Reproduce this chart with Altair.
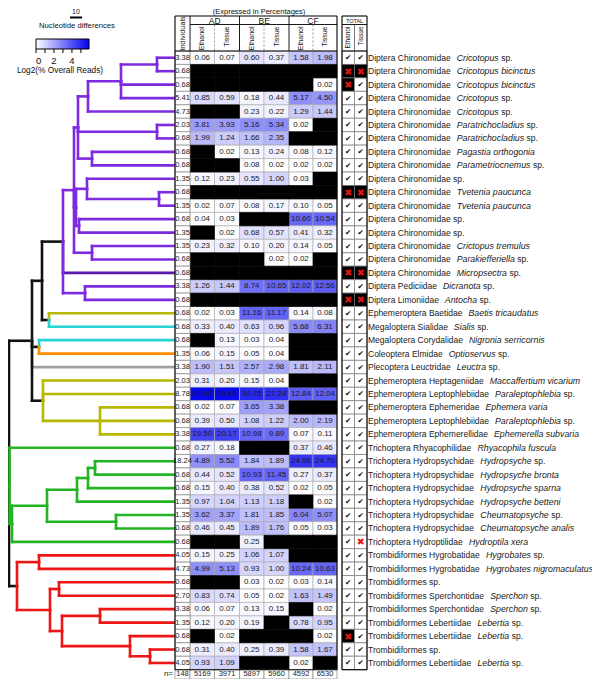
import math
import pandas as pd
import altair as alt

B = None  # black cell = taxon not detected

FAMILY = [
    "Diptera Chironomidae", "Diptera Chironomidae", "Diptera Chironomidae", "Diptera Chironomidae",
    "Diptera Chironomidae", "Diptera Chironomidae", "Diptera Chironomidae", "Diptera Chironomidae",
    "Diptera Chironomidae", "Diptera Chironomidae sp.", "Diptera Chironomidae", "Diptera Chironomidae",
    "Diptera Chironomidae sp.", "Diptera Chironomidae sp.", "Diptera Chironomidae", "Diptera Chironomidae",
    "Diptera Chironomidae", "Diptera Pediciidae", "Diptera Limoniidae", "Ephemeroptera Baetidae",
    "Megaloptera Sialidae", "Megaloptera Corydalidae", "Coleoptera Elmidae", "Plecoptera Leuctridae",
    "Ephemeroptera Heptageniidae", "Ephemeroptera Leptophlebiidae", "Ephemeroptera Ephemeridae",
    "Ephemeroptera Leptophlebiidae", "Ephemeroptera Ephemerellidae", "Trichoptera Rhyacophilidae",
    "Trichoptera Hydropsychidae", "Trichoptera Hydropsychidae", "Trichoptera Hydropsychidae",
    "Trichoptera Hydropsychidae", "Trichoptera Hydropsychidae", "Trichoptera Hydropsychidae",
    "Trichoptera Hydroptilidae", "Trombidiformes Hygrobatidae", "Trombidiformes Hygrobatidae",
    "Trombidiformes sp.", "Trombidiformes Sperchontidae", "Trombidiformes Sperchontidae",
    "Trombidiformes Lebertiidae", "Trombidiformes Lebertiidae", "Trombidiformes sp.",
    "Trombidiformes Lebertiidae",
]
SPECIES = [
    "Cricotopus sp.", "Cricotopus bicinctus", "Cricotopus bicinctus", "Cricotopus sp.", "Cricotopus sp.",
    "Paratrichocladius sp.", "Paratrichocladius sp.", "Pagastia orthogonia", "Parametriocnemus sp.", "",
    "Tvetenia paucunca", "Tvetenia paucunca", "", "", "Crictopus tremulus", "Parakiefferiella sp.",
    "Micropsectra sp.", "Dicranota sp.", "Antocha sp.", "Baetis tricaudatus", "Sialis sp.",
    "Nigronia serricornis", "Optioservus sp.", "Leuctra sp.", "Maccaffertium vicarium",
    "Paraleptophlebia sp.", "Ephemera varia", "Paraleptophlebia sp.", "Ephemerella subvaria",
    "Rhyacophila fuscula", "Hydropsyche sp.", "Hydropsyche bronta", "Hydropsyche sparna",
    "Hydropsyche betteni", "Cheumatopsyche sp.", "Cheumatopsyche analis", "Hydroptila xera",
    "Hygrobates sp.", "Hygrobates nigromaculatus", "", "Sperchon sp.", "Sperchon sp.",
    "Lebertia sp.", "Lebertia sp.", "", "Lebertia sp.",
]
INDIVIDUALS = [3.38, 0.68, 0.68, 5.41, 4.73, 2.03, 0.68, 0.68, 0.68, 1.35,
               0.68, 1.35, 0.68, 1.35, 1.35, 0.68, 0.68, 3.38, 0.68, 0.68,
               0.68, 0.68, 1.35, 3.38, 2.03, 8.78, 0.68, 0.68, 3.38, 0.68,
               18.24, 0.68, 0.68, 1.35, 1.35, 0.68, 0.68, 4.05, 4.73, 0.68,
               2.70, 3.38, 1.35, 0.68, 0.68, 4.05]
AD_ETH = [0.06, B, B, 0.85, B, 3.81, 1.99, B, B, 0.12,
          B, 0.02, 0.04, B, 0.23, B, B, 1.26, B, 0.02,
          0.33, B, 0.06, 1.90, 0.31, 50.90, 0.02, 0.39, 19.50, 0.27,
          4.89, 0.44, 0.15, 0.97, 3.62, 0.46, B, 0.15, 4.99, B,
          0.83, 0.06, 0.12, B, 0.31, 0.93]
AD_TIS = [0.07, B, B, 0.59, B, 3.93, 1.24, 0.02, B, 0.23,
          B, 0.07, 0.03, 0.02, 0.32, B, B, 1.44, B, 0.03,
          0.40, 0.13, 0.15, 1.51, 0.20, 49.46, 0.07, 0.50, 20.17, 0.18,
          5.52, 0.52, 0.40, 1.04, 3.37, 0.45, B, 0.25, 5.13, B,
          0.74, 0.07, 0.20, 0.02, 0.40, 1.09]
BE_ETH = [0.60, B, B, 0.18, 0.23, 5.16, 1.66, 0.13, 0.08, 0.55,
          B, 0.08, B, 0.68, 0.10, B, B, 8.74, B, 11.16,
          0.63, 0.03, 0.05, 2.57, 0.15, 30.75, 3.65, 1.08, 10.98, B,
          1.84, 10.93, 0.38, 1.13, 1.81, 1.89, 0.25, 1.06, 0.93, 0.03,
          0.05, 0.13, 0.19, B, 0.25, B]
BE_TIS = [0.37, B, B, 0.44, 0.22, 5.34, 2.35, 0.24, 0.02, 1.00,
          B, 0.17, B, 0.57, 0.20, 0.02, B, 10.65, B, 11.17,
          0.96, 0.04, 0.04, 2.98, 0.04, 27.24, 3.38, 1.22, 9.89, B,
          1.89, 11.45, 0.52, 1.18, 1.85, 1.76, B, 1.07, 1.00, 0.02,
          0.02, 0.15, B, B, 0.39, B]
CF_ETH = [1.58, B, B, 5.17, 1.29, 0.02, B, 0.08, 0.02, 0.03,
          B, 0.10, 10.60, 0.41, 0.14, 0.02, B, 12.02, B, 0.14,
          5.68, B, B, 1.81, B, 12.84, B, 2.00, 0.07, 0.37,
          24.96, 0.27, 0.02, B, 6.04, 0.05, B, B, 10.24, 0.03,
          1.63, B, 0.78, B, 1.58, 0.02]
CF_TIS = [1.98, B, 0.02, 4.50, 1.44, B, B, 0.12, 0.02, B,
          B, 0.05, 10.54, 0.32, 0.05, B, B, 12.56, B, 0.08,
          6.31, B, B, 2.11, B, 12.04, B, 2.19, 0.11, 0.46,
          24.70, 0.37, 0.05, 0.02, 5.07, 0.03, B, B, 10.63, 0.14,
          1.49, 0.02, 0.95, 0.02, 1.67, B]
# Y = detected (check), X = not detected (on black), w = not detected (on white)
TOTAL_ETH = list("YXXYYYYYYY" "XYYYYYXYXY" "YYYYYYYYYY" "YYYYYYYYYY" "YYYXYY")
TOTAL_TIS = list("YXYYYYYYYY" "XYYYYYXYXY" "YYYYYYYYYY" "YYYYYYwYYY" "YYYYYY")
SITES = ["AD", "BE", "CF"]
SAMPLE_TYPES = ["Ethanol", "Tissue"]
N_COUNTS = [148, 5169, 3971, 5897, 5960, 4592, 6530]
LEGEND_TICKS = [0, 1, 2, 3, 4, 5]
LEGEND_LABELS = [0, 2, 4]
SCALE_BAR_UNITS = 10

# ---------------- tree (node depth, branch colour) ----------------
def N(depth, color, *kids):
    return {"x": depth, "c": color, "kids": list(kids)}

def L(row, color):
    return {"row": row, "c": color}

TREE = N(9, "k",
    N(32, "k",
        N(42, "k",
            N(63, "k",
                N(74, "p",
                    N(78, "p",
                        N(88, "p",
                            N(121, "p", N(157, "p", L(1, "p"), L(2, "p")), L(3, "p"), L(4, "p")),
                            L(5, "p")),
                        N(157, "p", L(6, "p"), L(7, "p")),
                        N(92, "p", L(8, "p"), L(9, "p"))),
                    N(76, "p",
                        N(87, "p", L(10, "p"), N(159, "p", L(11, "p"), L(12, "p"))),
                        N(79, "p", L(13, "p"), L(14, "p"))),
                    N(92, "p", L(15, "p"), L(16, "p"))),
                L(17, "pd"),
                N(85, "p", L(18, "p"), L(19, "p"))),
            N(49, "k", L(20, "o"), L(21, "c"))),
        N(39, "k", L(22, "c"), L(23, "or")),
        L(24, "gy"),
        N(43, "k", L(25, "o"), L(26, "o"), N(100, "o", L(27, "o"), L(28, "o"), L(29, "o")))),
    N(9.6, "gr", L(30, "gr"),
        N(12, "gr",
            N(47, "gr",
                N(77, "gr", N(88, "gr", N(95, "gr", L(31, "gr"), L(32, "gr")), L(33, "gr")), L(34, "gr")),
                N(116, "gr", L(35, "gr"), L(36, "gr"))),
            L(37, "gr"))),
    N(17, "k",
        N(39, "r", L(38, "r"), L(39, "r")),
        N(50, "r",
            N(59, "r", L(40, "r"), L(41, "r")),
            N(62, "r",
                N(100, "r", L(42, "r"), L(43, "r")),
                N(130, "r", L(44, "r"), N(150, "r", L(45, "r"), L(46, "r")))))))

PAL = {"k": "#111111", "p": "#7d2ae0", "pd": "#5a17a8", "o": "#b8b800", "c": "#25d4d4",
       "or": "#ff8c00", "gy": "#a0a0a0", "gr": "#22b422", "r": "#ee1515"}

# ---------------- layout ----------------
LEFT, TOP = 8, 8
VIEW_W, VIEW_H = 584, 671
TIP_X = 175
COL_EDGES = [175, 190, 214.5, 239.5, 264, 289, 313, 337]
TOT_EDGES = [342, 354.5, 367]
HEAD_TOP, HEAD_MID, HEAD_BOT = 16, 24.5, 51
RH = 13.45
NROWS = len(FAMILY)
BODY_BOT = HEAD_BOT + NROWS * RH
NAME_X = 368
FONT = "Liberation Sans"
NARROW = "Liberation Sans Narrow, Liberation Sans, sans-serif"
SYMF = "DejaVu Sans"

def row_top(r):
    return HEAD_BOT + (r - 1) * RH

def row_mid(r):
    return row_top(r) + RH / 2

XS = alt.Scale(domain=[LEFT, LEFT + VIEW_W], range=[0, VIEW_W], nice=False, zero=False)
YS = alt.Scale(domain=[TOP, TOP + VIEW_H], range=[0, VIEW_H], nice=False, zero=False)

def enc(x="x", y="y", x2=None, y2=None):
    d = dict(x=alt.X(f"{x}:Q", scale=XS, axis=None), y=alt.Y(f"{y}:Q", scale=YS, axis=None))
    if x2:
        d["x2"] = alt.X2(f"{x2}:Q")
    if y2:
        d["y2"] = alt.Y2(f"{y2}:Q")
    return d

# Arial / Liberation Sans advance widths (1/1000 em)
AW = dict(zip("abcdefghijklmnopqrstuvwxyz",
              [556, 556, 500, 556, 556, 278, 556, 556, 222, 222, 500, 222, 833,
               556, 556, 556, 556, 333, 500, 278, 556, 500, 722, 500, 500, 500]))
AW.update(dict(zip("ABCDEFGHIJKLMNOPQRSTUVWXYZ",
                   [667, 667, 722, 722, 667, 611, 778, 722, 278, 500, 667, 556, 833,
                    722, 778, 667, 778, 722, 667, 611, 722, 667, 944, 667, 667, 611])))
AW.update({" ": 278, ".": 278})

def tw(s, size):
    return sum(AW.get(ch, 556) for ch in s) / 1000 * size

# ---------------- tree segments ----------------
def place(n):
    if "row" in n:
        n["x"] = TIP_X
        n["y"] = row_mid(n["row"])
        return
    for k in n["kids"]:
        place(k)
    ys = [k["y"] for k in n["kids"]]
    n["y"] = (min(ys) + max(ys)) / 2

segs = []
def walk(n):
    kids = n.get("kids", [])
    for k in kids:
        segs.append(dict(x1=n["x"], x2=n["x"], y1=n["y"], y2=k["y"], col=PAL[k["c"]]))
        segs.append(dict(x1=n["x"], x2=k["x"], y1=k["y"], y2=k["y"], col=PAL[k["c"]]))
    for k in kids:
        walk(k)

place(TREE)
walk(TREE)
seg_df = pd.DataFrame(segs)
seg_df["o"] = range(len(seg_df))
tree = alt.Chart(seg_df).mark_rule(strokeWidth=2.6, strokeCap="square").encode(
    **enc("x1", "y1", "x2", "y2"), color=alt.Color("col:N", scale=None), order="o:Q")

# ---------------- cells ----------------
COLS = [AD_ETH, AD_TIS, BE_ETH, BE_TIS, CF_ETH, CF_TIS]
rows_c, rows_b = [], []
for ci, col in enumerate(COLS):
    for r, v in enumerate(col, start=1):
        rec = dict(x1=COL_EDGES[ci + 1], x2=COL_EDGES[ci + 2], y1=row_top(r), y2=row_top(r) + RH,
                   xm=(COL_EDGES[ci + 1] + COL_EDGES[ci + 2]) / 2, ym=row_mid(r))
        if v is None:
            rows_b.append(rec)
        else:
            rec["lv"] = math.log2(1 + v)
            rec["label"] = f"{v:.2f}"
            rows_c.append(rec)
cdf = pd.DataFrame(rows_c)
bdf = pd.DataFrame(rows_b)

CS = alt.Scale(domain=[0, 5.9], range=["#ffffff", "#0000f0"], interpolate="rgb")
LEG = alt.Legend(orient="none", legendX=36 - LEFT, legendY=39 - TOP, direction="horizontal",
                 gradientLength=53, gradientThickness=10, gradientStrokeColor="#000000",
                 gradientStrokeWidth=1, values=LEGEND_LABELS, labelFont=FONT, labelFontSize=9.5,
                 labelOffset=7, labelAlign="center", labelColor="#111111")

colored = alt.Chart(cdf).mark_rect(stroke="#a8a8a8", strokeWidth=0.6).encode(
    **enc("x1", "y1", "x2", "y2"), color=alt.Color("lv:Q", scale=CS, legend=LEG, title=None))
black = alt.Chart(bdf).mark_rect(fill="#000000", stroke="#000000", strokeWidth=0.6).encode(
    **enc("x1", "y1", "x2", "y2"))
cell_txt = alt.Chart(cdf).mark_text(font=FONT, fontSize=8, color="#1a1a1a").encode(
    **enc("xm", "ym"), text="label:N")

ind_df = pd.DataFrame([dict(x1=COL_EDGES[0], x2=COL_EDGES[1], y1=row_top(r), y2=row_top(r) + RH,
                            xm=(COL_EDGES[0] + COL_EDGES[1]) / 2, ym=row_mid(r), label=f"{v:.2f}")
                       for r, v in enumerate(INDIVIDUALS, start=1)])
ind_rect = alt.Chart(ind_df).mark_rect(fill="#ffffff", stroke="#888888", strokeWidth=0.7).encode(
    **enc("x1", "y1", "x2", "y2"))
ind_txt = alt.Chart(ind_df).mark_text(font=NARROW, fontSize=7.5, color="#1a1a1a").encode(
    **enc("xm", "ym"), text="label:N")

# n= row
n_y1 = BODY_BOT
n_y2 = BODY_BOT + 9.3
n_df = pd.DataFrame([dict(x1=COL_EDGES[i], x2=COL_EDGES[i + 1], y1=n_y1, y2=n_y2,
                          xm=(COL_EDGES[i] + COL_EDGES[i + 1]) / 2, ym=(n_y1 + n_y2) / 2, label=str(v))
                     for i, v in enumerate(N_COUNTS)])
n_rect = alt.Chart(n_df).mark_rect(fill="#ffffff", stroke="#888888", strokeWidth=0.7).encode(
    **enc("x1", "y1", "x2", "y2"))
n_txt = alt.Chart(n_df).mark_text(font=NARROW, fontSize=7.5, color="#1a1a1a").encode(
    **enc("xm", "ym"), text="label:N")
n_lab = alt.Chart(pd.DataFrame([dict(x=COL_EDGES[0] - 2, y=(n_y1 + n_y2) / 2, t="n=")])).mark_text(
    font=FONT, fontSize=8, align="right", color="#1a1a1a").encode(**enc("x", "y"), text="t:N")

# ---------------- totals ----------------
tot_rows, sym_rows = [], []
for ti, lst in enumerate([TOTAL_ETH, TOTAL_TIS]):
    for r, s in enumerate(lst, start=1):
        x1, x2 = TOT_EDGES[ti], TOT_EDGES[ti + 1]
        tot_rows.append(dict(x1=x1, x2=x2, y1=row_top(r), y2=row_top(r) + RH,
                             fill="#000000" if s == "X" else "#ffffff"))
        sym_rows.append(dict(x=(x1 + x2) / 2, y=row_mid(r) + 0.5, s=s))
tdf = pd.DataFrame(tot_rows)
sdf = pd.DataFrame(sym_rows)
tot_rect = alt.Chart(tdf).mark_rect(stroke="#777777", strokeWidth=0.7).encode(
    **enc("x1", "y1", "x2", "y2"), fill=alt.Fill("fill:N", scale=None))
chk = alt.Chart(sdf[sdf.s == "Y"]).mark_text(text="✔", font=SYMF, fontSize=7.5, color="#111111").encode(
    **enc("x", "y"))
crs = alt.Chart(sdf[sdf.s != "Y"]).mark_text(text="✖", font=SYMF, fontSize=9.5, color="#ee1111").encode(
    **enc("x", "y"))

# ---------------- header ----------------
hl = []
def box(x1, y1, x2, y2, w=1.0, col="#000000"):
    hl.extend([dict(x1=x1, x2=x2, y1=y1, y2=y1, w=w, col=col), dict(x1=x1, x2=x2, y1=y2, y2=y2, w=w, col=col),
               dict(x1=x1, x2=x1, y1=y1, y2=y2, w=w, col=col), dict(x1=x2, x2=x2, y1=y1, y2=y2, w=w, col=col)])
box(COL_EDGES[0], HEAD_TOP, COL_EDGES[-1], BODY_BOT, 1.1)
box(TOT_EDGES[0], HEAD_TOP, TOT_EDGES[-1], BODY_BOT, 1.1)
hl.append(dict(x1=COL_EDGES[1], x2=COL_EDGES[-1], y1=HEAD_MID, y2=HEAD_MID, w=0.9, col="#000000"))
hl.append(dict(x1=COL_EDGES[0], x2=COL_EDGES[-1], y1=HEAD_BOT, y2=HEAD_BOT, w=1.0, col="#000000"))
hl.append(dict(x1=TOT_EDGES[0], x2=TOT_EDGES[-1], y1=HEAD_MID, y2=HEAD_MID, w=0.9, col="#000000"))
hl.append(dict(x1=TOT_EDGES[0], x2=TOT_EDGES[-1], y1=HEAD_BOT, y2=HEAD_BOT, w=1.0, col="#000000"))
hl.append(dict(x1=TOT_EDGES[1], x2=TOT_EDGES[1], y1=HEAD_MID, y2=HEAD_BOT, w=0.8, col="#555555"))
for e in (COL_EDGES[1], COL_EDGES[3], COL_EDGES[5]):
    hl.append(dict(x1=e, x2=e, y1=HEAD_TOP, y2=HEAD_BOT, w=0.9, col="#000000"))
hdf = pd.DataFrame(hl)
hlines = alt.Chart(hdf).mark_rule().encode(
    **enc("x1", "y1", "x2", "y2"), color=alt.Color("col:N", scale=None), strokeWidth=alt.StrokeWidth("w:Q", scale=None))
dash_df = pd.DataFrame([dict(x1=e, x2=e, y1=HEAD_MID, y2=HEAD_BOT) for e in (COL_EDGES[2], COL_EDGES[4], COL_EDGES[6])])
dashes = alt.Chart(dash_df).mark_rule(color="#777777", strokeWidth=0.8, strokeDash=[2, 2]).encode(
    **enc("x1", "y1", "x2", "y2"))

site_df = pd.DataFrame([dict(x=(COL_EDGES[1 + 2 * i] + COL_EDGES[3 + 2 * i]) / 2, y=(HEAD_TOP + HEAD_MID) / 2 + 0.5, t=s)
                        for i, s in enumerate(SITES)])
site_txt = alt.Chart(site_df).mark_text(font=FONT, fontSize=8.5, color="#111111").encode(**enc("x", "y"), text="t:N")
type_df = pd.DataFrame([dict(x=(COL_EDGES[1 + i] + COL_EDGES[2 + i]) / 2, y=HEAD_MID + 2, t=SAMPLE_TYPES[i % 2])
                        for i in range(6)])
type_txt = alt.Chart(type_df).mark_text(font=FONT, fontSize=7, angle=270, align="right", baseline="middle",
                                        color="#111111").encode(**enc("x", "y"), text="t:N")
ttype_df = pd.DataFrame([dict(x=(TOT_EDGES[i] + TOT_EDGES[i + 1]) / 2, y=HEAD_MID + 2, t=SAMPLE_TYPES[i])
                         for i in range(2)])
ttype_txt = alt.Chart(ttype_df).mark_text(font=FONT, fontSize=6.5, angle=270, align="right", baseline="middle",
                                          color="#111111").encode(**enc("x", "y"), text="t:N")
misc_df = pd.DataFrame([dict(x=(COL_EDGES[0] + COL_EDGES[1]) / 2, y=(HEAD_TOP + HEAD_BOT) / 2, t="Individuals")])
ind_head = alt.Chart(misc_df).mark_text(font=FONT, fontSize=7.3, angle=270, baseline="middle",
                                        color="#111111").encode(**enc("x", "y"), text="t:N")
total_head = alt.Chart(pd.DataFrame([dict(x=(TOT_EDGES[0] + TOT_EDGES[-1]) / 2, y=(HEAD_TOP + HEAD_MID) / 2 + 0.5,
                                          t="TOTAL")])).mark_text(font=FONT, fontSize=5.5, color="#111111").encode(
    **enc("x", "y"), text="t:N")
title_txt = alt.Chart(pd.DataFrame([dict(x=259, y=12, t="(Expressed in Percentages)")])).mark_text(
    font=FONT, fontSize=7.5, color="#111111").encode(**enc("x", "y"), text="t:N")

# ---------------- names ----------------
fam_rows, sp_rows, up_rows = [], [], []
FS_FAM, FS_SP, GAP = 8.5, 8.8, 6
for r, (f, s) in enumerate(zip(FAMILY, SPECIES), start=1):
    y = row_mid(r)
    fam_rows.append(dict(x=NAME_X, y=y, t=f))
    if s:
        sx = NAME_X + tw(f, FS_FAM) + GAP
        if s.endswith(" sp."):
            genus = s[:-4]
            sp_rows.append(dict(x=sx, y=y, t=genus))
            up_rows.append(dict(x=sx + tw(genus + " ", FS_SP), y=y, t="sp."))
        else:
            sp_rows.append(dict(x=sx, y=y, t=s))
fam_txt = alt.Chart(pd.DataFrame(fam_rows)).mark_text(font=FONT, fontSize=FS_FAM, align="left",
                                                      color="#1a1a1a").encode(**enc("x", "y"), text="t:N")
sp_txt = alt.Chart(pd.DataFrame(sp_rows)).mark_text(font=FONT, fontSize=FS_SP, fontStyle="italic", align="left",
                                                    color="#1a1a1a").encode(**enc("x", "y"), text="t:N")
up_txt = alt.Chart(pd.DataFrame(up_rows)).mark_text(font=FONT, fontSize=FS_FAM, align="left",
                                                    color="#1a1a1a").encode(**enc("x", "y"), text="t:N")

# ---------------- legends ----------------
LEG_X0, LEG_LEN, LEG_Y1 = 36, 53, 49
tick_df = pd.DataFrame([dict(x1=LEG_X0 + v * LEG_LEN / 5.9, y1=LEG_Y1, y2=LEG_Y1 + 4) for v in LEGEND_TICKS])
ticks = alt.Chart(tick_df).mark_rule(color="#000000", strokeWidth=1).encode(**enc("x1", "y1", y2="y2"))
leg_title = alt.Chart(pd.DataFrame([dict(x=60, y=71, t="Log2(% Overall Reads)")])).mark_text(
    font=FONT, fontSize=8.3, color="#111111").encode(**enc("x", "y"), text="t:N")

bar_len = SCALE_BAR_UNITS * 1.2
bar_df = pd.DataFrame([dict(x1=70, x2=70 + bar_len, y1=17.5, y2=17.5)])
bar = alt.Chart(bar_df).mark_rule(color="#000000", strokeWidth=2).encode(**enc("x1", "y1", "x2", "y2"))
bar_lab = alt.Chart(pd.DataFrame([dict(x=76, y=12.3, t=str(SCALE_BAR_UNITS))])).mark_text(
    font=FONT, fontSize=7, color="#111111").encode(**enc("x", "y"), text="t:N")
nd_lab = alt.Chart(pd.DataFrame([dict(x=77, y=25.5, t="Nucleotide differences")])).mark_text(
    font=FONT, fontSize=7.7, color="#111111").encode(**enc("x", "y"), text="t:N")

chart = alt.layer(
    tree, colored, black, cell_txt, ind_rect, ind_txt, n_rect, n_txt, n_lab,
    tot_rect, chk, crs, hlines, dashes, site_txt, type_txt, ttype_txt, ind_head, total_head, title_txt,
    fam_txt, sp_txt, up_txt, ticks, leg_title, bar, bar_lab, nd_lab,
).properties(
    width=VIEW_W, height=VIEW_H, padding=0, autosize=alt.AutoSizeParams(type="none")
).configure_view(stroke=None)

chart.save("out.html", embed_options={"renderer": "svg", "actions": False})
